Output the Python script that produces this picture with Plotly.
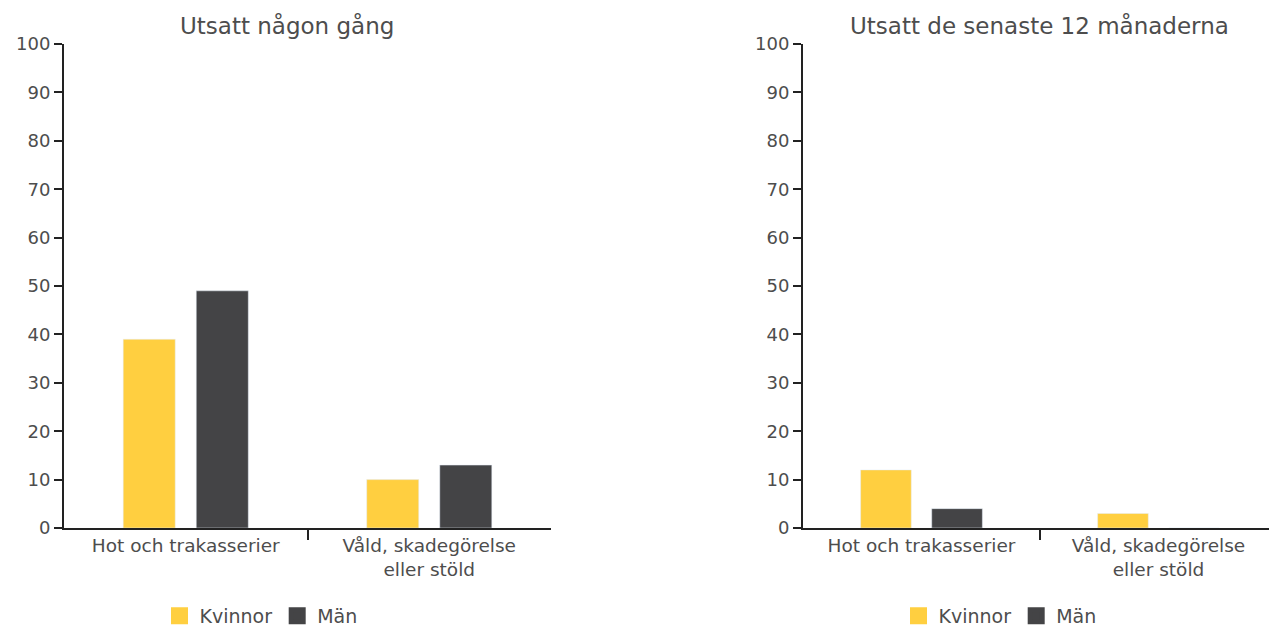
import plotly.graph_objects as go

categories = ["Hot och trakasserier", "Våld, skadegörelse<br>eller stöld"]
series_names = ["Kvinnor", "Män"]
ever_kvinnor = [39, 10]
ever_man = [49, 13]
last12_kvinnor = [12, 3]
last12_man = [4, 0]
titles = ["Utsatt någon gång", "Utsatt de senaste 12 månaderna"]
yticks = list(range(0, 101, 10))

colors = {"Kvinnor": "#FFCF40", "Män": "#444446"}
font_family = "DejaVu Sans, sans-serif"
text_color = "#4d4d4d"

fig = go.Figure()
# data bars (legend shown through the swatch-only entries below)
for y, name, xa, ya in [(ever_kvinnor, series_names[0], "x", "y"), (ever_man, series_names[1], "x", "y"),
                        (last12_kvinnor, series_names[0], "x2", "y2"), (last12_man, series_names[1], "x2", "y2")]:
    fig.add_trace(go.Bar(x=categories, y=y, name=name, marker_color=colors[name],
                         xaxis=xa, yaxis=ya, showlegend=False))

# legend entries with larger swatches, on a hidden axis pair
for leg in ["legend", "legend2"]:
    for name in series_names:
        fig.add_trace(go.Bar(x=[None], y=[None], name=name, xaxis="x3", yaxis="y3", legend=leg,
                             marker=dict(color=colors[name], line=dict(color=colors[name], width=8)),
                             hoverinfo="skip", showlegend=True))

# page body has an 8px margin; figure sized to fit the window
OFF = 8
W, H = 1277 - OFF, 627 - OFF
ml, mt = 64 - OFF, 44 - OFF
mr = 0
mb = H - (528 - OFF)
pw = W - ml - mr
d1 = [0, (551 - 64) / pw]
d2 = [(803 - 64) / pw, 1.0]

xcommon = dict(type="category", range=[-0.4999, 1.4999], showline=True, linecolor="#222", linewidth=2,
               ticks="outside", tickson="boundaries", ticklen=10, tickwidth=2, tickcolor="#222",
               tickfont=dict(size=18.5, color=text_color, family=font_family), showgrid=False,
               automargin=False)
ycommon = dict(range=[0, 100], tickvals=yticks, showline=True, linecolor="#222", linewidth=2,
               ticks="outside", ticklen=8, tickwidth=2, tickcolor="#222", showgrid=False, zeroline=False,
               tickfont=dict(size=18, color=text_color, family=font_family), automargin=False)

legcommon = dict(orientation="h", xanchor="center", yanchor="middle", yref="container",
                 y=(627 - 616) / H, font=dict(size=19, color=text_color, family=font_family),
                 bgcolor="rgba(0,0,0,0)")

fig.update_layout(
    width=W, height=H,
    margin=dict(l=ml, r=mr, t=mt, b=mb, autoexpand=False),
    paper_bgcolor="white", plot_bgcolor="white",
    barmode="group", bargap=0.40, bargroupgap=1 - 52 / 73,
    xaxis=dict(domain=d1, anchor="y", **xcommon),
    yaxis=dict(domain=[0, 1], anchor="x", **ycommon),
    xaxis2=dict(domain=d2, anchor="y2", **xcommon),
    yaxis2=dict(domain=[0, 1], anchor="x2", **ycommon),
    xaxis3=dict(domain=[0.45, 0.46], anchor="y3", visible=False),
    yaxis3=dict(domain=[0.0, 0.01], anchor="x3", visible=False),
    legend=dict(x=(261 - 64) / pw, **legcommon),
    legend2=dict(x=(1000 - 64) / pw, **legcommon),
    showlegend=True,
    annotations=[
        dict(text=titles[0], x=(287 - 64) / pw, y=1.0, xref="paper", yref="paper", yshift=19,
             showarrow=False, xanchor="center", yanchor="middle",
             font=dict(size=23, color=text_color, family=font_family)),
        dict(text=titles[1], x=(1039 - 64) / pw, y=1.0, xref="paper", yref="paper", yshift=19,
             showarrow=False, xanchor="center", yanchor="middle",
             font=dict(size=23, color=text_color, family=font_family)),
    ],
)

fig.write_html("out.html")
